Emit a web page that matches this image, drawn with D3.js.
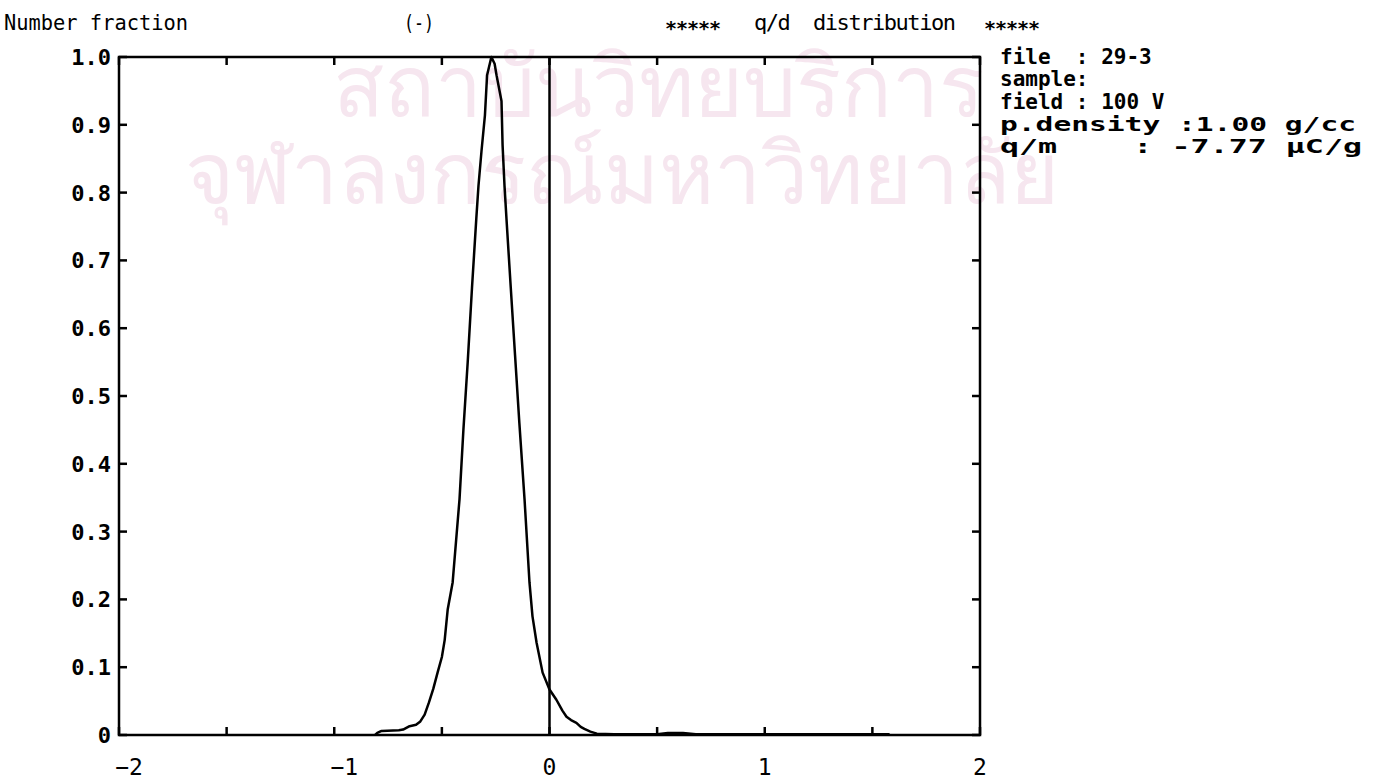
<!DOCTYPE html>
<html>
<head>
<meta charset="utf-8">
<script src="https://cdn.jsdelivr.net/npm/d3@7"></script>
<style>
  body { margin: 0; background: #fff; }
  svg text { font-family: "DejaVu Sans Mono", monospace; fill: #000; white-space: pre; }
</style>
</head>
<body>
<div id="canvas"></div>
<script>
// q/d distribution
var qd = [-0.81, -0.80, -0.78, -0.70, -0.68, -0.65, -0.62, -0.60, -0.58, -0.56, -0.54, -0.52, -0.50, -0.487, -0.473, -0.45, -0.418, -0.40, -0.38, -0.36, -0.34, -0.33, -0.316, -0.30, -0.29, -0.27, -0.255, -0.246, -0.223, -0.218, -0.209, -0.20, -0.18, -0.16, -0.14, -0.116, -0.093, -0.079, -0.06, -0.032, 0, 0.032, 0.06, 0.079, 0.10, 0.125, 0.145, 0.162, 0.19, 0.22, 0.30, 0.50, 0.55, 0.62, 0.68, 1.0, 1.58]
var fraction = [0, 0.003, 0.006, 0.007, 0.008, 0.013, 0.015, 0.02, 0.030, 0.048, 0.068, 0.092, 0.115, 0.14, 0.185, 0.225, 0.348, 0.45, 0.55, 0.66, 0.762, 0.81, 0.861, 0.914, 0.973, 1.0, 0.99, 0.973, 0.935, 0.87, 0.81, 0.762, 0.66, 0.56, 0.46, 0.348, 0.225, 0.175, 0.136, 0.092, 0.067, 0.052, 0.036, 0.027, 0.022, 0.018, 0.012, 0.009, 0.005, 0.002, 0.001, 0.001, 0.003, 0.003, 0.001, 0.001, 0.001]

var xTicks = [-2, -1.5, -1, -0.5, 0, 0.5, 1, 1.5, 2]
var xLabels = [-2, -1, 0, 1, 2]
var yTicks = [0, 0.1, 0.2, 0.3, 0.4, 0.5, 0.6, 0.7, 0.8, 0.9, 1.0]

var infoLines = ["file  : 29-3", "sample:", "field : 100 V", "p.density :1.00 g/cc", "q/m    : -7.77 \u00b5C/g"]
var infoWidths = [null, null, null, 356, 362]

var width = 1376
var height = 784
var pLeft = 119, pRight = 980, pTop = 57, pBottom = 735
var tickLen = 8

var svg = d3.select("#canvas")
    .append("svg")
    .attr("width", width)
    .attr("height", height)

// faint watermark of the scan
svg.append("text").attr("x", 658).attr("y", 116).attr("text-anchor", "middle")
    .style("font-family", "Noto Sans, DejaVu Sans, sans-serif").style("font-size", "84px")
    .style("fill", "#f6e6ef").text("สถาบันวิทยบริการ")
svg.append("text").attr("x", 622).attr("y", 203).attr("text-anchor", "middle")
    .style("font-family", "Noto Sans, DejaVu Sans, sans-serif").style("font-size", "84px")
    .style("fill", "#f6e6ef").text("จุฬาลงกรณ์มหาวิทยาลัย")

var xScale = d3.scaleLinear().domain([-2, 2]).range([pLeft, pRight])
var yScale = d3.scaleLinear().domain([0, 1]).range([pBottom, pTop])

// frame
svg.append("rect")
    .attr("x", pLeft).attr("y", pTop)
    .attr("width", pRight - pLeft).attr("height", pBottom - pTop)
    .attr("fill", "none").attr("stroke", "#000").attr("stroke-width", 2.5)

// inward ticks on all four sides
var ticks = svg.append("g").attr("stroke", "#000").attr("stroke-width", 2.5)
xTicks.forEach(function (d) {
    ticks.append("line").attr("x1", xScale(d)).attr("x2", xScale(d))
        .attr("y1", pBottom).attr("y2", pBottom - tickLen)
    ticks.append("line").attr("x1", xScale(d)).attr("x2", xScale(d))
        .attr("y1", pTop).attr("y2", pTop + tickLen)
})
yTicks.forEach(function (d) {
    ticks.append("line").attr("x1", pLeft).attr("x2", pLeft + tickLen)
        .attr("y1", yScale(d)).attr("y2", yScale(d))
    ticks.append("line").attr("x1", pRight).attr("x2", pRight - tickLen)
        .attr("y1", yScale(d)).attr("y2", yScale(d))
})

// zero line
svg.append("line")
    .attr("x1", xScale(0)).attr("x2", xScale(0))
    .attr("y1", pTop).attr("y2", pBottom)
    .attr("stroke", "#000").attr("stroke-width", 2.5)

// labels
svg.selectAll(".ylab")
    .data(yTicks)
    .enter().append("text")
    .attr("class", "ylab")
    .attr("x", pLeft - 8)
    .attr("y", function (d) { return yScale(d) + 8 })
    .attr("text-anchor", "end")
    .style("font-size", "22px").style("font-weight", "bold")
    .text(function (d) { return d === 0 ? "0" : d.toFixed(1) })

svg.selectAll(".xlab")
    .data(xLabels)
    .enter().append("text")
    .attr("class", "xlab")
    .attr("x", function (d) { return xScale(d) + (d < 0 ? 10 : 0) })
    .attr("y", pBottom + 40)
    .attr("text-anchor", "middle")
    .style("font-size", "23px")
    .text(function (d) { return d < 0 ? "\u2212" + Math.abs(d) : d })

// curve
var points = qd.map(function (d, i) { return [d, fraction[i]] })
svg.append("path")
    .datum(points)
    .attr("fill", "none")
    .attr("stroke", "#000")
    .attr("stroke-width", 2.5)
    .attr("stroke-linejoin", "round")
    .attr("d", d3.line()
        .x(function (d) { return xScale(d[0]) })
        .y(function (d) { return yScale(d[1]) }))

// titles
svg.append("text").attr("x", 4).attr("y", 30).style("font-size", "22px")
    .attr("textLength", 184).attr("lengthAdjust", "spacingAndGlyphs").text("Number fraction")
svg.append("text").attr("x", 404).attr("y", 30).style("font-size", "22px")
    .attr("textLength", 30).attr("lengthAdjust", "spacingAndGlyphs").text("(-)")
svg.append("text").attr("x", 665).attr("y", 35).style("font-size", "20px").style("font-weight", "bold")
    .attr("textLength", 56).attr("lengthAdjust", "spacing").text("*****")
svg.append("text").attr("x", 754).attr("y", 30).style("font-size", "22px")
    .attr("textLength", 202).attr("lengthAdjust", "spacing").text("q/d  distribution")
svg.append("text").attr("x", 984).attr("y", 35).style("font-size", "20px").style("font-weight", "bold")
    .attr("textLength", 56).attr("lengthAdjust", "spacing").text("*****")

svg.selectAll(".info")
    .data(infoLines)
    .enter().append("text")
    .attr("class", "info")
    .attr("x", 1000)
    .attr("y", function (d, i) { return 64 + i * 22.3 })
    .each(function (d, i) {
        if (infoWidths[i]) {
            d3.select(this).attr("textLength", infoWidths[i]).attr("lengthAdjust", "spacingAndGlyphs")
                .style("font-size", "20px")
        }
    })
    .style("font-weight", "bold")
    .style("font-size", function (d, i) { return infoWidths[i] ? "20px" : "21px" })
    .text(function (d) { return d })
</script>
</body>
</html>
